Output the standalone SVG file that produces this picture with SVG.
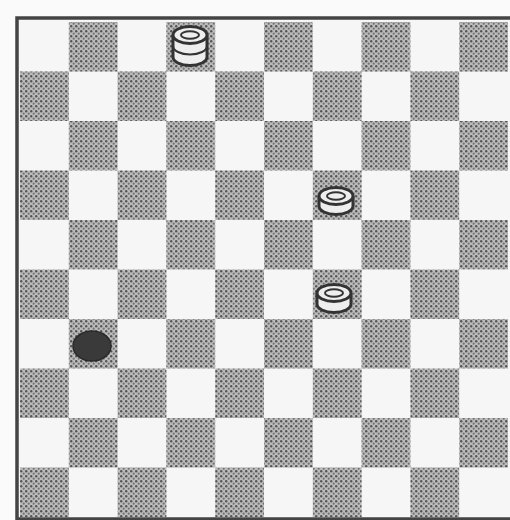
<svg xmlns="http://www.w3.org/2000/svg" width="510" height="520" viewBox="0 0 510 520">
<defs>
<pattern id="dk" patternUnits="userSpaceOnUse" width="5" height="5">
<rect width="5" height="5" fill="#bcbcbc"/>
<circle cx="1.2" cy="1.2" r="1.2" fill="#555555"/>
<circle cx="3.7" cy="3.7" r="1.1" fill="#727272"/>
</pattern>
<style>
.d{fill:url(#dk)}
.wp{fill:#eeeeee;stroke:#333333;stroke-width:3}
.wl{fill:none;stroke:#333333;stroke-width:2}
</style>
</defs>
<rect width="510" height="520" fill="#fafafa"/>
<g id="board">
<rect x="18" y="19" width="494" height="500" fill="#f6f6f6"/>
<g id="dark-squares">
<rect class="d" x="68.8" y="22" width="48.8" height="49.5"/>
<rect class="d" x="166.4" y="22" width="48.8" height="49.5"/>
<rect class="d" x="264" y="22" width="48.8" height="49.5"/>
<rect class="d" x="361.6" y="22" width="48.8" height="49.5"/>
<rect class="d" x="459.2" y="22" width="48.8" height="49.5"/>
<rect class="d" x="20" y="71.5" width="48.8" height="49.5"/>
<rect class="d" x="117.6" y="71.5" width="48.8" height="49.5"/>
<rect class="d" x="215.2" y="71.5" width="48.8" height="49.5"/>
<rect class="d" x="312.8" y="71.5" width="48.8" height="49.5"/>
<rect class="d" x="410.4" y="71.5" width="48.8" height="49.5"/>
<rect class="d" x="68.8" y="121" width="48.8" height="49.5"/>
<rect class="d" x="166.4" y="121" width="48.8" height="49.5"/>
<rect class="d" x="264" y="121" width="48.8" height="49.5"/>
<rect class="d" x="361.6" y="121" width="48.8" height="49.5"/>
<rect class="d" x="459.2" y="121" width="48.8" height="49.5"/>
<rect class="d" x="20" y="170.5" width="48.8" height="49.5"/>
<rect class="d" x="117.6" y="170.5" width="48.8" height="49.5"/>
<rect class="d" x="215.2" y="170.5" width="48.8" height="49.5"/>
<rect class="d" x="312.8" y="170.5" width="48.8" height="49.5"/>
<rect class="d" x="410.4" y="170.5" width="48.8" height="49.5"/>
<rect class="d" x="68.8" y="220" width="48.8" height="49.5"/>
<rect class="d" x="166.4" y="220" width="48.8" height="49.5"/>
<rect class="d" x="264" y="220" width="48.8" height="49.5"/>
<rect class="d" x="361.6" y="220" width="48.8" height="49.5"/>
<rect class="d" x="459.2" y="220" width="48.8" height="49.5"/>
<rect class="d" x="20" y="269.5" width="48.8" height="49.5"/>
<rect class="d" x="117.6" y="269.5" width="48.8" height="49.5"/>
<rect class="d" x="215.2" y="269.5" width="48.8" height="49.5"/>
<rect class="d" x="312.8" y="269.5" width="48.8" height="49.5"/>
<rect class="d" x="410.4" y="269.5" width="48.8" height="49.5"/>
<rect class="d" x="68.8" y="319" width="48.8" height="49.5"/>
<rect class="d" x="166.4" y="319" width="48.8" height="49.5"/>
<rect class="d" x="264" y="319" width="48.8" height="49.5"/>
<rect class="d" x="361.6" y="319" width="48.8" height="49.5"/>
<rect class="d" x="459.2" y="319" width="48.8" height="49.5"/>
<rect class="d" x="20" y="368.5" width="48.8" height="49.5"/>
<rect class="d" x="117.6" y="368.5" width="48.8" height="49.5"/>
<rect class="d" x="215.2" y="368.5" width="48.8" height="49.5"/>
<rect class="d" x="312.8" y="368.5" width="48.8" height="49.5"/>
<rect class="d" x="410.4" y="368.5" width="48.8" height="49.5"/>
<rect class="d" x="68.8" y="418" width="48.8" height="49.5"/>
<rect class="d" x="166.4" y="418" width="48.8" height="49.5"/>
<rect class="d" x="264" y="418" width="48.8" height="49.5"/>
<rect class="d" x="361.6" y="418" width="48.8" height="49.5"/>
<rect class="d" x="459.2" y="418" width="48.8" height="49.5"/>
<rect class="d" x="20" y="467.5" width="48.8" height="49.5"/>
<rect class="d" x="117.6" y="467.5" width="48.8" height="49.5"/>
<rect class="d" x="215.2" y="467.5" width="48.8" height="49.5"/>
<rect class="d" x="312.8" y="467.5" width="48.8" height="49.5"/>
<rect class="d" x="410.4" y="467.5" width="48.8" height="49.5"/>
</g>
<rect x="17" y="18" width="495" height="501" fill="none" stroke="#444444" stroke-width="3.5"/>
</g>
<g id="white-king">
<path class="wp" d="M173,35 L173,57 A17,8.5 0 0 0 207,57 L207,35"/>
<ellipse class="wp" cx="190" cy="35" rx="17" ry="8.5"/>
<path class="wl" d="M173,46 A17,8.5 0 0 0 207,46"/>
<ellipse class="wl" cx="190" cy="35" rx="9" ry="3.8"/>
</g>
<g id="white-man-1">
<path class="wp" d="M319,196 L319,206 A17,8.5 0 0 0 353,206 L353,196"/>
<ellipse class="wp" cx="336" cy="196" rx="17" ry="8.5"/>
<ellipse class="wl" cx="336" cy="196" rx="9" ry="3.8"/>
</g>
<g id="white-man-2">
<path class="wp" d="M317,293 L317,304 A17,8.5 0 0 0 351,304 L351,293"/>
<ellipse class="wp" cx="334" cy="293" rx="17" ry="8.5"/>
<ellipse class="wl" cx="334" cy="293" rx="9" ry="3.8"/>
</g>
<g id="black-man">
<ellipse cx="92" cy="346" rx="19" ry="15" fill="#3a3a3a" stroke="#2a2a2a" stroke-width="1.5"/>
</g>
</svg>
